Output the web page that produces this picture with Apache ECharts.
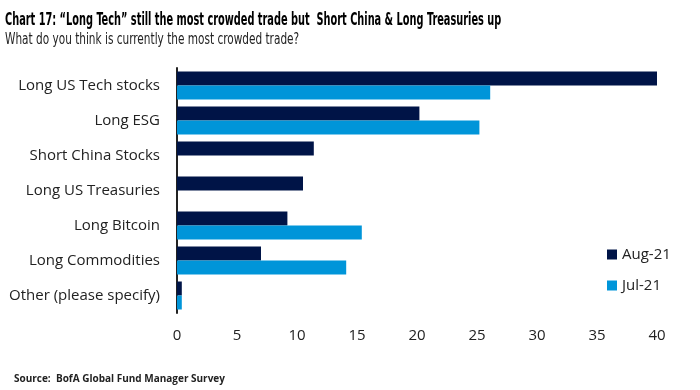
<!DOCTYPE html>
<html><head><meta charset="utf-8">
<script src="https://cdn.jsdelivr.net/npm/echarts@6/dist/echarts.min.js"></script>
<style>html,body{margin:0;padding:0;background:#fff}#c{width:700px;height:390px}</style>
</head><body><div id="c"></div>
<script>
const categories = ["Long US Tech stocks","Long ESG","Short China Stocks","Long US Treasuries","Long Bitcoin","Long Commodities","Other (please specify)"];
const aug21 = [40.4, 20.2, 11.4, 10.5, 9.2, 7.0, 0.4];
const jul21 = [26.1, 25.2, null, null, 15.4, 14.1, 0.4];
const xTicks = [0,5,10,15,20,25,30,35,40];

const chart = echarts.init(document.getElementById('c'));
chart.setOption({
  animation:false,
  graphic:[
    {type:'text', left:5, top:12, scaleX:0.64, scaleY:1,
     style:{text:'Chart 17: \u201cLong Tech\u201d still the most crowded trade but  Short China & Long Treasuries up',
       font:'bold 17px "DejaVu Sans Condensed"', fill:'#000'}},
    {type:'text', left:5, top:33, scaleX:0.78, scaleY:1,
     style:{text:'What do you think is currently the most crowded trade?',
       font:'normal 15px "DejaVu Sans Condensed"', fill:'#222'}}
  ],
  title:[
    {text:'{b|Source:}  BofA Global Fund Manager Survey', left:9, top:369,
     textStyle:{rich:{b:{fontFamily:'Open Sans', fontWeight:'bold', fontSize:10, color:'#222'}}, fontFamily:'Open Sans', fontSize:10, color:'#222'}}
  ],
  legend:{orient:'vertical', left:602, top:242, itemWidth:10, itemHeight:10, itemGap:16, icon:'rect',
    textStyle:{fontFamily:'Open Sans', fontSize:15, color:'#222'}, data:['Aug-21','Jul-21']},
  grid:{left:177, right:43, top:68, bottom:77},
  xAxis:{type:'value', min:0, max:40, interval:5,
    axisLine:{show:false}, axisTick:{show:false}, splitLine:{show:false},
    axisLabel:{fontFamily:'Open Sans', fontSize:15, color:'#222', margin:15,
      formatter:v=>xTicks.includes(v)?String(v):''}},
  yAxis:{type:'category', data:categories, inverse:true,
    axisLine:{show:true, lineStyle:{color:'#222', width:2}}, axisTick:{show:false},
    axisLabel:{fontFamily:'Open Sans', fontSize:15, color:'#222', margin:17}},
  series:[
    {name:'Aug-21', type:'bar', data:aug21, barGap:'0%', barCategoryGap:'20%', itemStyle:{color:'#001447'}},
    {name:'Jul-21', type:'bar', data:jul21, barGap:'0%', barCategoryGap:'20%', itemStyle:{color:'#0095D9'}}
  ]
});
</script></body></html>
